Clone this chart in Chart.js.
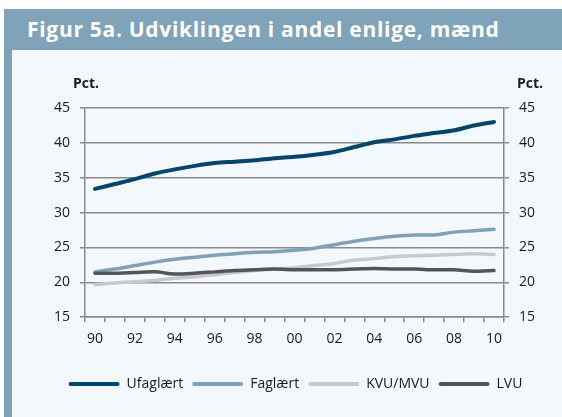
<!DOCTYPE html>
<html><head><meta charset="utf-8">
<script src="https://cdn.jsdelivr.net/npm/chart.js@4.4.1/dist/chart.umd.min.js"></script>
<style>
html,body{margin:0;padding:0;background:#fff;width:562px;height:417px;overflow:hidden;}
#frame{position:absolute;left:4px;top:9px;width:558px;height:408px;background:#7fa3b9;}
#title{position:absolute;left:27px;top:19px;font-family:"Open Sans";font-weight:bold;font-size:21px;line-height:20px;letter-spacing:0.7px;color:#fff;white-space:nowrap;}
#panel{position:absolute;left:12px;top:50px;width:550px;height:367px;background:#f3f8fc;}
#c{position:absolute;left:0;top:0;}
</style></head>
<body>
<div id="frame"></div>
<div id="title">Figur 5a. Udviklingen i andel enlige, mænd</div>
<div id="panel"><canvas id="c" width="550" height="367"></canvas></div>
<script>
const years = ["90","91","92","93","94","95","96","97","98","99","00","01","02","03","04","05","06","07","08","09","10"];
const seriesNames = ["Ufaglært","Faglært","KVU/MVU","LVU"];
const ufaglaert = [33.4,34.1,34.8,35.6,36.2,36.7,37.1,37.3,37.5,37.8,38.0,38.3,38.7,39.4,40.1,40.5,41.0,41.4,41.8,42.5,43.0];
const faglaert  = [21.5,21.9,22.4,22.9,23.3,23.6,23.9,24.1,24.3,24.4,24.6,24.9,25.4,25.9,26.3,26.6,26.8,26.8,27.2,27.4,27.6];
const kvuMvu    = [19.7,19.9,20.1,20.3,20.6,20.8,21.1,21.4,21.7,21.9,22.1,22.4,22.7,23.2,23.4,23.7,23.8,23.9,24.0,24.1,24.0];
const lvu       = [21.3,21.3,21.4,21.5,21.2,21.3,21.5,21.7,21.8,21.9,21.8,21.8,21.8,21.9,22.0,21.9,21.9,21.8,21.8,21.6,21.7];
const yTicks = [15,20,25,30,35,40,45];
const yUnit = "Pct.";

const gridColor = '#8a8a8a';
const textColor = '#1a1a1a';
const FONT = '"Open Sans", sans-serif';

const pctPlugin = {
  id: 'pct',
  afterDraw(chart) {
    const ctx = chart.ctx;
    ctx.save();
    ctx.font = 'bold 14px ' + FONT;
    ctx.fillStyle = textColor;
    ctx.textBaseline = 'middle';
    ctx.textAlign = 'left';
    ctx.fillText(yUnit, chart.scales.y.right - 12, 34);
    ctx.fillText(yUnit, chart.scales.y2.left + 13, 34);
    ctx.restore();
  }
};

function mk(label, data, color, width, order) {
  return {label, data, borderColor: color, backgroundColor: color, borderWidth: width,
    pointRadius: 0, tension: 0.3, fill: false, order, borderCapStyle: 'round', borderJoinStyle: 'round'};
}

const yScaleBase = {
  min: yTicks[0], max: yTicks[yTicks.length - 1],
  afterBuildTicks(s) { s.ticks = yTicks.map(v => ({value: v})); },
  ticks: {font: {family: FONT, size: 14}, color: textColor, padding: 10},
  border: {display: true, color: gridColor, width: 1.5},
};

new Chart(document.getElementById('c'), {
  type: 'line',
  data: {
    labels: years,
    datasets: [
      mk(seriesNames[0], ufaglaert, '#00466e', 4, 1),
      mk(seriesNames[1], faglaert, '#7fa2b8', 3.5, 2),
      mk(seriesNames[2], kvuMvu, '#c9c9c9', 3.5, 3),
      mk(seriesNames[3], lvu, '#555555', 3.5, 0),
    ]
  },
  options: {
    responsive: false,
    devicePixelRatio: 1,
    animation: false,
    layout: {padding: {left: 17, right: 0, top: 58, bottom: 16}},
    plugins: {
      tooltip: {enabled: false},
      legend: {
        position: 'bottom',
        labels: {
          boxWidth: 51, boxHeight: 4, padding: 9,
          font: {family: FONT, size: 14}, color: textColor,
          generateLabels(chart) {
            return chart.data.datasets.map((ds, i) => ({
              text: ds.label, fillStyle: ds.borderColor, strokeStyle: ds.borderColor,
              lineWidth: 0, hidden: false, datasetIndex: i, fontColor: textColor, borderRadius: 2
            }));
          }
        }
      }
    },
    scales: {
      x: {
        offset: true,
        grid: {offset: true, drawOnChartArea: false, drawTicks: true, tickLength: 5, color: gridColor, lineWidth: 1.5},
        border: {display: true, color: gridColor, width: 1.5},
        ticks: {autoSkip: false, maxRotation: 0, font: {family: FONT, size: 14}, color: textColor, padding: 8,
          callback(v, i) { return i % 2 === 0 ? years[i] : ''; }},
        afterFit(s) { s.height += 13; }
      },
      y: Object.assign({}, yScaleBase, {
        position: 'left',
        grid: {color: gridColor, lineWidth: 1.5, drawTicks: true, tickLength: 5},
        afterFit(s) { s.width = 56; }
      }),
      y2: Object.assign({}, yScaleBase, {
        position: 'right',
        grid: {drawOnChartArea: false, color: gridColor, lineWidth: 1.5, drawTicks: true, tickLength: 5},
        afterFit(s) { s.width = 58; }
      })
    }
  },
  plugins: [pctPlugin]
});
</script>
</body></html>
